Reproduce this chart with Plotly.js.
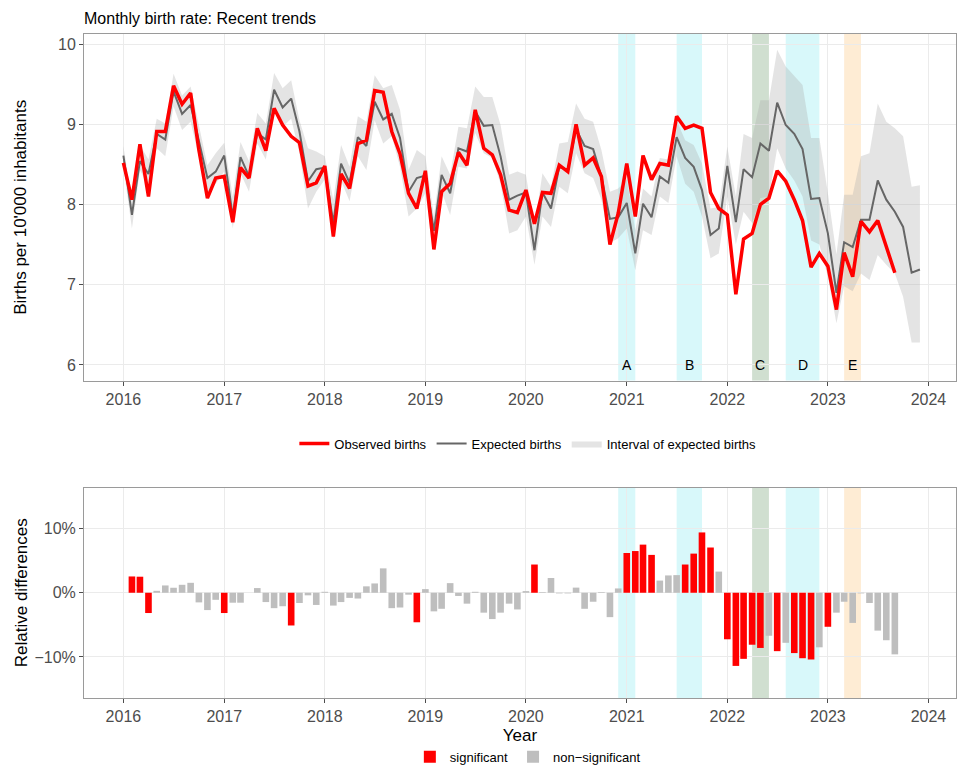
<!DOCTYPE html>
<html>
<head>
<meta charset="utf-8">
<script src="https://cdn.plot.ly/plotly-3.0.1.min.js"></script>
<style>
html,body{margin:0;padding:0;background:#fff;}
#chart{width:957px;height:772px;}
</style>
</head>
<body>
<div id="chart"></div>
<script>
// ---------- DATA ----------
const startYear = 2016; // first month = January 2016, one value per month

// Observed births per 10'000 inhabitants (Jan 2016 .. Sep 2023)
const observed = [
  8.52, 8.06, 8.75, 8.10, 8.91, 8.91, 9.48, 9.25, 9.39, 8.68, 8.08, 8.33,
  8.35, 7.78, 8.46, 8.33, 8.95, 8.67, 9.20, 8.99, 8.85, 8.77, 8.23, 8.27,
  8.48, 7.60, 8.38, 8.20, 8.76, 8.80, 9.42, 9.40, 8.91, 8.63, 8.14, 7.95,
  8.42, 7.44, 8.16, 8.26, 8.65, 8.49, 9.18, 8.70, 8.62, 8.37, 7.93, 7.90,
  8.18, 7.76, 8.15, 8.14, 8.49, 8.41, 9.00, 8.49, 8.58, 8.35, 7.50, 7.89,
  8.51, 7.85, 8.61, 8.31, 8.51, 8.49, 9.10, 8.95, 8.99, 8.95, 8.15, 7.95,
  7.87, 6.88, 7.57, 7.64, 8.00, 8.08, 8.42, 8.29, 8.06, 7.80, 7.22, 7.39,
  7.23, 6.69, 7.40, 7.10, 7.79, 7.66, 7.80, 7.48, 7.15
];

// Expected births (Jan 2016 .. Dec 2023)
const expected = [
  8.61, 7.87, 8.54, 8.38, 8.88, 8.81, 9.41, 9.13, 9.24, 8.80, 8.33, 8.41,
  8.61, 7.85, 8.59, 8.35, 8.89, 8.81, 9.43, 9.21, 9.32, 8.91, 8.29, 8.44,
  8.46, 7.77, 8.51, 8.27, 8.84, 8.73, 9.28, 9.06, 9.13, 8.83, 8.16, 8.33,
  8.36, 7.67, 8.37, 8.14, 8.70, 8.66, 9.16, 8.98, 8.99, 8.60, 8.06, 8.11,
  8.15, 7.43, 8.15, 7.95, 8.47, 8.43, 8.94, 8.73, 8.69, 8.35, 7.82, 7.84,
  8.02, 7.39, 8.01, 7.84, 8.35, 8.27, 8.84, 8.58, 8.47, 8.18, 7.62, 7.70,
  8.48, 7.78, 8.44, 8.34, 8.76, 8.67, 9.27, 8.99, 8.88, 8.69, 8.07, 8.08,
  7.64, 6.90, 7.53, 7.47, 7.81, 7.81, 8.30, 8.06, 7.91, 7.72, 7.15, 7.19
];

// Interval of expected births: upper and lower bounds
const intervalUpper = [
  8.73, 8.06, 8.74, 8.56, 9.07, 9.01, 9.63, 9.36, 9.47, 8.97, 8.49, 8.64,
  8.77, 8.10, 8.78, 8.54, 9.14, 9.01, 9.64, 9.45, 9.55, 9.05, 8.70, 8.66,
  8.60, 8.06, 8.74, 8.47, 9.10, 9.03, 9.61, 9.45, 9.49, 9.18, 8.43, 8.68,
  8.60, 7.85, 8.60, 8.37, 8.97, 8.95, 9.47, 9.34, 9.34, 8.99, 8.37, 8.41,
  8.37, 7.72, 8.39, 8.22, 8.76, 8.78, 9.26, 9.07, 9.03, 8.68, 8.16, 8.20,
  8.31, 7.68, 8.20, 8.10, 8.58, 8.56, 9.05, 8.80, 8.74, 8.51, 7.95, 7.97,
  8.72, 8.10, 8.88, 8.83, 9.30, 9.30, 9.93, 9.72, 9.60, 9.49, 8.83, 8.83,
  8.14, 7.38, 8.12, 8.12, 8.60, 8.64, 9.26, 9.03, 8.95, 8.85, 8.22, 8.24
];
const intervalLower = [
  8.47, 7.70, 8.43, 8.22, 8.70, 8.60, 9.22, 8.93, 9.03, 8.60, 8.14, 8.26,
  8.41, 7.70, 8.39, 8.16, 8.76, 8.56, 9.22, 8.97, 9.07, 8.64, 7.95, 8.16,
  8.31, 7.56, 8.30, 8.04, 8.60, 8.43, 9.05, 8.76, 8.85, 8.47, 7.85, 7.95,
  8.14, 7.43, 8.16, 7.87, 8.47, 8.45, 8.89, 8.64, 8.58, 8.26, 7.64, 7.68,
  7.85, 7.25, 7.85, 7.72, 8.22, 8.14, 8.64, 8.39, 8.33, 8.06, 7.52, 7.58,
  7.70, 7.18, 7.68, 7.62, 8.10, 8.02, 8.60, 8.26, 8.16, 7.85, 7.33, 7.39,
  8.10, 7.50, 7.91, 7.77, 8.08, 8.10, 8.70, 8.45, 8.30, 8.10, 7.55, 7.50,
  7.10, 6.52, 6.98, 6.92, 7.14, 7.06, 7.37, 7.25, 7.14, 6.85, 6.28, 6.28
];

// Relative differences in % (Feb 2016 .. Sep 2023) and significance flags
const diffStartIndex = 1; // first bar = February 2016
const relDiff = [
  2.54, 2.50, -3.16, 0.30, 1.14, 0.78, 1.24, 1.55, -1.50, -2.70, -1.10,
  -3.16, -1.55, -1.55, 0.00, 0.73, -1.45, -2.40, -2.10, -5.10, -1.60, -0.40, -1.90,
  0.15, -2.00, -1.45, -0.80, -0.90, 1.00, 1.45, 3.80, -2.40, -2.30, -0.30, -4.60,
  0.57, -2.90, -2.50, 1.50, -0.50, -1.70, 0.15, -3.10, -4.10, -3.10, -1.70, -2.60,
  0.26, 4.40, 0.10, 2.30, -0.10, -0.10, 0.80, -2.50, -1.40, 0.10, -3.80, 0.67,
  6.20, 6.50, 7.50, 5.90, 1.90, 2.70, 2.75, 4.40, 6.10, 9.40, 7.05, 3.30,
  -7.25, -11.40, -10.30, -8.10, -8.60, -6.70, -9.10, -7.80, -9.40, -10.20, -10.40, -8.50,
  -5.30, -3.10, -1.40, -4.70, -0.10, -1.60, -5.90, -7.40, -9.60
];
const significant = [
  1, 1, 1, 0, 0, 0, 0, 0, 0, 0, 0,
  1, 0, 0, 0, 0, 0, 0, 0, 1, 0, 0, 0,
  0, 0, 0, 0, 0, 0, 0, 0, 0, 0, 0, 1,
  0, 0, 0, 0, 0, 0, 0, 0, 0, 0, 0, 0,
  0, 1, 0, 0, 0, 0, 0, 0, 0, 0, 0, 0,
  1, 1, 1, 1, 0, 0, 0, 1, 1, 1, 1, 0,
  1, 1, 1, 1, 1, 0, 1, 0, 1, 1, 1, 0,
  1, 0, 0, 0, 0, 0, 0, 0, 0
];

// Highlighted periods
const periodLabels = ['A', 'B', 'C', 'D', 'E'];
const periodStart  = ['2020-12-01', '2021-07-01', '2022-04-01', '2022-08-01', '2023-03-01'];
const periodEnd    = ['2021-02-01', '2021-10-01', '2022-06-01', '2022-12-01', '2023-05-01'];
const periodColors = ['rgb(216,248,250)', 'rgb(216,248,250)', 'rgb(208,223,208)', 'rgb(216,248,250)', 'rgb(254,236,212)'];

// Axis ticks
const yearTicks = ['2016-01-01','2017-01-01','2018-01-01','2019-01-01','2020-01-01','2021-01-01','2022-01-01','2023-01-01','2024-01-01'];
const yearLabels = ['2016','2017','2018','2019','2020','2021','2022','2023','2024'];
const rateTicks = [6, 7, 8, 9, 10];
const diffTicks = [-10, 0, 10];
const diffTickLabels = ['\u221210%', '0%', '10%'];

// ---------- HELPERS ----------
function monthDate(i) {
  const y = startYear + Math.floor(i / 12);
  const m = (i % 12) + 1;
  return y + '-' + String(m).padStart(2, '0') + '-01';
}
function midDate(a, b) {
  const t = (new Date(a + 'T00:00:00Z').getTime() + new Date(b + 'T00:00:00Z').getTime()) / 2;
  return new Date(t).toISOString().slice(0, 10);
}
const obsX = observed.map((_, i) => monthDate(i));
const expX = expected.map((_, i) => monthDate(i));
const sigX = [], sigY = [], nsX = [], nsY = [];
relDiff.forEach((v, k) => {
  const d = monthDate(k + diffStartIndex);
  if (significant[k]) { sigX.push(d); sigY.push(v); } else { nsX.push(d); nsY.push(v); }
});

// ---------- TRACES ----------
const DAY = 86400000;
const traces = [
  { x: expX, y: intervalUpper, type: 'scatter', mode: 'lines', line: {width: 0, color: 'rgba(0,0,0,0)'},
    showlegend: false, hoverinfo: 'skip', xaxis: 'x', yaxis: 'y' },
  { x: expX, y: intervalLower, type: 'scatter', mode: 'lines', line: {width: 0, color: 'rgba(0,0,0,0)'},
    fill: 'tonexty', fillcolor: 'rgba(170,170,170,0.32)', name: 'Interval of expected births',
    legendrank: 3, legend: 'legend', xaxis: 'x', yaxis: 'y' },
  { x: expX, y: expected, type: 'scatter', mode: 'lines', line: {width: 2, color: '#666666'},
    name: 'Expected births', legendrank: 2, legend: 'legend', xaxis: 'x', yaxis: 'y' },
  { x: obsX, y: observed, type: 'scatter', mode: 'lines', line: {width: 3.5, color: '#FF0000'},
    name: 'Observed births', legendrank: 1, legend: 'legend', xaxis: 'x', yaxis: 'y' },
  { x: sigX, y: sigY, type: 'bar', marker: {color: '#FF0000', line: {width: 0}}, width: 24 * DAY,
    name: 'significant', legend: 'legend2', legendrank: 1, xaxis: 'x2', yaxis: 'y2' },
  { x: nsX, y: nsY, type: 'bar', marker: {color: '#BEBEBE', line: {width: 0}}, width: 24 * DAY,
    name: 'non\u2212significant', legend: 'legend2', legendrank: 2, xaxis: 'x2', yaxis: 'y2' }
];

// ---------- SHAPES & ANNOTATIONS ----------
const shapes = [];
const annotations = [];
periodLabels.forEach((lab, i) => {
  shapes.push({ type: 'rect', xref: 'x', yref: 'y domain', x0: periodStart[i], x1: periodEnd[i], y0: 0, y1: 1,
    fillcolor: periodColors[i], line: {width: 0}, layer: 'below' });
  shapes.push({ type: 'rect', xref: 'x2', yref: 'y2 domain', x0: periodStart[i], x1: periodEnd[i], y0: 0, y1: 1,
    fillcolor: periodColors[i], line: {width: 0}, layer: 'below' });
  annotations.push({ xref: 'x', yref: 'y', x: midDate(periodStart[i], periodEnd[i]), y: 6, text: lab,
    showarrow: false, yanchor: 'middle', font: {size: 14, color: '#000', family: 'Liberation Sans, Arial, sans-serif'} });
});

// ---------- LAYOUT ----------
const xRange = ['2015-08-11', '2024-04-10'];
const axisFont = {size: 16, color: '#4D4D4D', family: 'Liberation Sans, Arial, sans-serif'};
const baseX = {
  type: 'date', range: xRange, tickvals: yearTicks, ticktext: yearLabels,
  showgrid: true, gridcolor: '#EBEBEB', gridwidth: 1, zeroline: false,
  showline: true, mirror: true, linecolor: '#9A9A9A', linewidth: 1,
  ticks: 'outside', ticklen: 4, tickcolor: '#4D4D4D', tickfont: axisFont
};
const layout = {
  width: 957, height: 772,
  margin: {l: 84, r: 1, t: 34, b: 73},
  paper_bgcolor: '#fff', plot_bgcolor: '#fff',
  font: {family: 'Liberation Sans, Arial, sans-serif', color: '#000'},
  title: {text: 'Monthly birth rate: Recent trends', x: 84 / 957, xanchor: 'left', xref: 'container',
    y: 0.976, yref: 'container', yanchor: 'middle', font: {size: 16, color: '#000'}},
  xaxis: Object.assign({}, baseX, {anchor: 'y'}),
  xaxis2: Object.assign({}, baseX, {anchor: 'y2',
    title: {text: 'Year', font: {size: 17, color: '#000'}, standoff: 4}}),
  yaxis: {
    domain: [0.478, 1], range: [5.805, 10.125], tickvals: rateTicks,
    showgrid: true, gridcolor: '#EBEBEB', zeroline: false,
    showline: true, mirror: true, linecolor: '#9A9A9A', linewidth: 1,
    ticks: 'outside', ticklen: 4, tickcolor: '#4D4D4D', tickfont: axisFont,
    title: {text: "Births per 10'000 inhabitants", font: {size: 17, color: '#000'}, standoff: 27}
  },
  yaxis2: {
    domain: [0, 0.317], range: [-16.4, 16.4], tickvals: diffTicks, ticktext: diffTickLabels,
    showgrid: true, gridcolor: '#EBEBEB', zeroline: false,
    showline: true, mirror: true, linecolor: '#9A9A9A', linewidth: 1,
    ticks: 'outside', ticklen: 4, tickcolor: '#4D4D4D', tickfont: axisFont,
    title: {text: 'Relative differences', font: {size: 17, color: '#000'}, standoff: 2}
  },
  barmode: 'overlay',
  legend: {orientation: 'h', traceorder: 'normal',
    x: 0.509, xanchor: 'center', y: 0.384, yanchor: 'middle',
    font: {size: 13, color: '#000'}, bgcolor: 'rgba(0,0,0,0)', itemwidth: 30},
  legend2: {orientation: 'h', traceorder: 'normal',
    x: 0.509, xanchor: 'center', y: -0.1095, yanchor: 'bottom',
    font: {size: 13, color: '#000'}, bgcolor: 'rgba(0,0,0,0)', itemwidth: 30},
  shapes: shapes,
  annotations: annotations,
  showlegend: true
};

Plotly.newPlot('chart', traces, layout, {displayModeBar: false, staticPlot: true});
</script>
</body>
</html>
